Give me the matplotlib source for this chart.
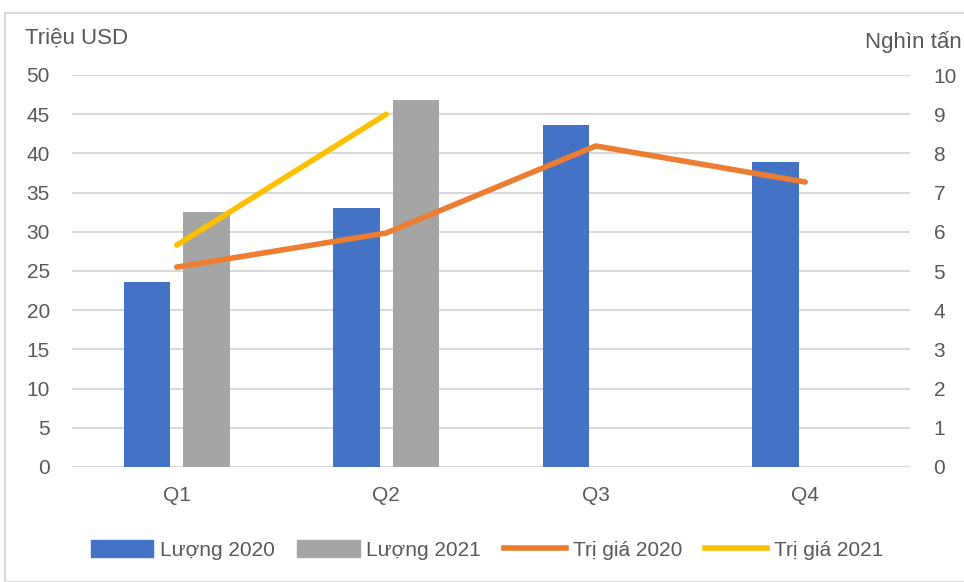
import matplotlib.pyplot as plt
import numpy as np
from matplotlib.patches import Rectangle
from matplotlib.lines import Line2D

plt.rcParams['font.family'] = ['Liberation Sans Narrow', 'Liberation Sans', 'DejaVu Sans']

quarters = ['Q1', 'Q2', 'Q3', 'Q4']
luong_2020 = [23.6, 33.0, 43.6, 38.9]
luong_2021 = [32.5, 46.8]
trigia_2020 = [5.1, 5.97, 8.19, 7.27]
trigia_2021 = [5.66, 9.0]

blue = '#4472c4'
grey = '#a5a5a5'
orange = '#ed7d31'
yellow = '#ffc000'
txt = '#595959'

fig = plt.figure(figsize=(9.64, 5.82), dpi=100)
fig.patches.append(Rectangle((5 / 964, 0), 1, 1 - 13 / 582, transform=fig.transFigure,
                             fill=False, edgecolor='#d9d9d9', linewidth=1.5))

ax = fig.add_axes([72 / 964, 1 - 467 / 582, (910 - 72) / 964, (467 - 75) / 582])
ax2 = ax.twinx()

x = np.arange(len(quarters))
w = 0.22
off = 0.142
ax.bar(x - off, luong_2020, w, color=blue, zorder=3)
ax.bar(x[:len(luong_2021)] + off, luong_2021, w, color=grey, zorder=3)

ax2.plot(x, trigia_2020, color=orange, lw=4, solid_capstyle='round', zorder=4)
ax2.plot(x[:len(trigia_2021)], trigia_2021, color=yellow, lw=4, solid_capstyle='round', zorder=4)

ax.set_xlim(-0.5, 3.5)
ax.set_ylim(0, 50)
ax.set_yticks(range(0, 51, 5))
ax2.set_ylim(0, 10)
ax2.set_yticks(range(0, 11))
ax.set_xticks(x)
ax.set_xticklabels(quarters)

ax.grid(axis='y', color='#d9d9d9', lw=1.5, zorder=0)
ax.set_axisbelow(True)
for a in (ax, ax2):
    for s in a.spines.values():
        s.set_visible(False)
    a.tick_params(length=0, labelsize=15, colors=txt)
ax.tick_params(axis='y', pad=16)
ax2.tick_params(axis='y', pad=17)
ax.tick_params(axis='x', pad=14)

fig.text(25 / 964, 1 - 38 / 582, 'Triệu USD', fontsize=16, color=txt, va='center', ha='left')
fig.text(962 / 964, 1 - 42 / 582, 'Nghìn tấn', fontsize=16, color=txt, va='center', ha='right')

handles = [
    Rectangle((0, 0), 1, 1, color=blue),
    Rectangle((0, 0), 1, 1, color=grey),
    Line2D([], [], color=orange, lw=4),
    Line2D([], [], color=yellow, lw=4),
]
labels = ['Lượng 2020', 'Lượng 2021', 'Trị giá 2020', 'Trị giá 2021']
fig.legend(handles, labels, loc='center', bbox_to_anchor=(0.505, 1 - 550 / 582), ncol=4,
           frameon=False, fontsize=15, labelcolor=txt, handlelength=3.0, handleheight=0.9,
           handletextpad=0.3, columnspacing=1.1)

fig.savefig('out.png', dpi=100)
